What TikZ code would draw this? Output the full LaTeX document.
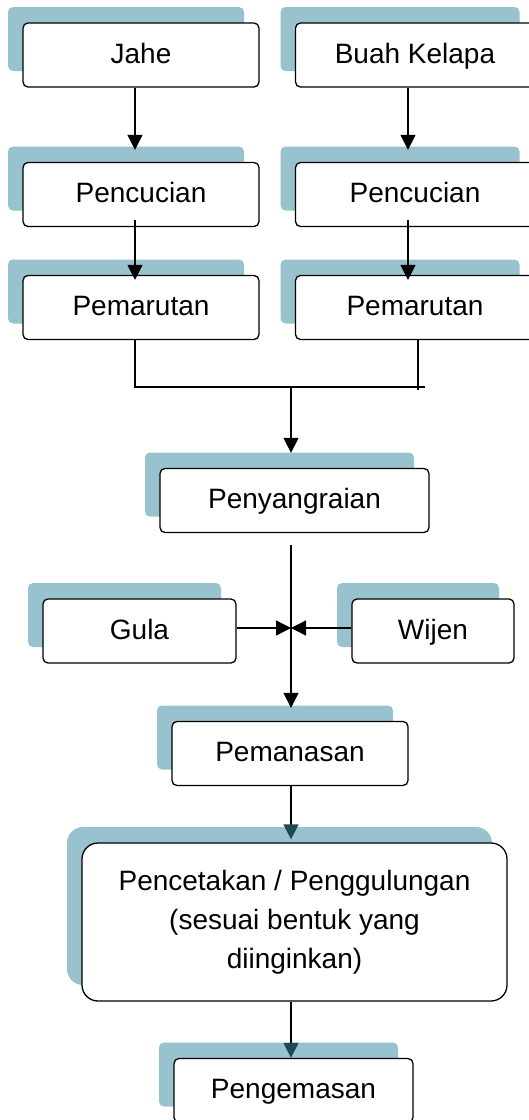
\documentclass[tikz,border=0pt]{standalone}
\usepackage{fontspec}
\setmainfont{Liberation Sans}
\usepackage{tikz}
\usetikzlibrary{arrows.meta,shadows,calc}
\definecolor{shadowteal}{RGB}{152,195,206}
\definecolor{tipteal}{RGB}{30,72,85}
\tikzstyle{stepbox}=[draw, line width=.65pt, fill=white, inner sep=0pt,
	font=\fontsize{14pt}{19.5pt}\selectfont,
	general shadow={fill=shadowteal, draw=none, shadow xshift=-7.5pt, shadow yshift=8pt}]
\tikzstyle{tahap}=[stepbox, rounded corners=2.5pt, minimum height=32pt, text height=11pt, text depth=3pt]
\tikzstyle{flow}=[line width=.65pt, -{Triangle[length=7.5pt,width=7.5pt]}]
\tikzstyle{flowteal}=[line width=.65pt, -{Triangle[length=7.5pt,width=7.5pt,color=tipteal]}]
\tikzstyle{link}=[line width=.65pt]

\begin{document}
\begin{tikzpicture}[x=.5pt, y=-.5pt]
\useasboundingbox (0,0) rectangle (529,1120);
%
	\node[tahap, minimum width=118pt] (jahe) at (141,55) {Jahe};
	\node[tahap, minimum width=119.5pt] (kelapa) at (415,55) {Buah Kelapa};
	\node[tahap, minimum width=118pt] (cuci1) at (141,194.5) {Pencucian};
	\node[tahap, minimum width=119.5pt] (cuci2) at (415,194.5) {Pencucian};
	\node[tahap, minimum width=118pt] (parut1) at (141,307.5) {Pemarutan};
	\node[tahap, minimum width=119.5pt] (parut2) at (415,307.5) {Pemarutan};
%
	\node[tahap, minimum width=134.5pt] (sangrai) at (294.5,500.5) {Penyangraian};
	\node[tahap, minimum width=96.5pt] (gula) at (139.5,631) {Gula};
	\node[tahap, minimum width=81pt] (wijen) at (433,631) {Wijen};
	\node[tahap, minimum width=118pt] (panas) at (290,753.5) {Pemanasan};
	\node[stepbox, rounded corners=8pt, minimum width=212.5pt, minimum height=79pt, align=center]
		(cetak) at (294.5,922) {Pencetakan / Penggulungan\\(sesuai bentuk yang\\diinginkan)};
	\node[tahap, minimum width=119.5pt] (kemas) at (293.5,1090.5) {Pengemasan};
%
	\coordinate (gabung) at (291,387);
	\coordinate (ujung) at (418,390);
	\coordinate (campur) at (291,628);
%
	\draw[flow] ($(jahe.south)+(-6,0)$) -- ($(cuci1.north)+(-6,-12)$);
	\draw[flow] ($(kelapa.south)+(-7,0)$) -- ($(cuci2.north)+(-7,-12)$);
	\draw[flow] ($(cuci1.south)+(-6,-7)$) -- ($(parut1.north)+(-6,5)$);
	\draw[flow] ($(cuci2.south)+(-7,-7)$) -- ($(parut2.north)+(-7,5)$);
%
	\draw[link] ($(parut1.south)+(-6,0)$) |- ($(parut2.south |- gabung)+(10,0)$);
	\draw[link] ($(parut2.south)+(3,0)$) -- (ujung);
	\draw[flow] (gabung) -- ($(sangrai.north -| gabung)+(0,-15)$);
%
	\draw[flow] ($(sangrai.south -| campur)+(0,12)$) -- ($(panas.north -| campur)+(0,-13)$);
	\draw[flow] ($(gula.east)+(0,-3)$) -- (campur);
	\draw[flow] ($(wijen.west)+(0,-3)$) -- (campur);
	\draw[flowteal] (panas.south -| campur) -- ($(cetak.north -| campur)+(0,-3)$);
	\draw[flowteal] (cetak.south -| campur) -- (kemas.north -| campur);
\end{tikzpicture}
\end{document}
